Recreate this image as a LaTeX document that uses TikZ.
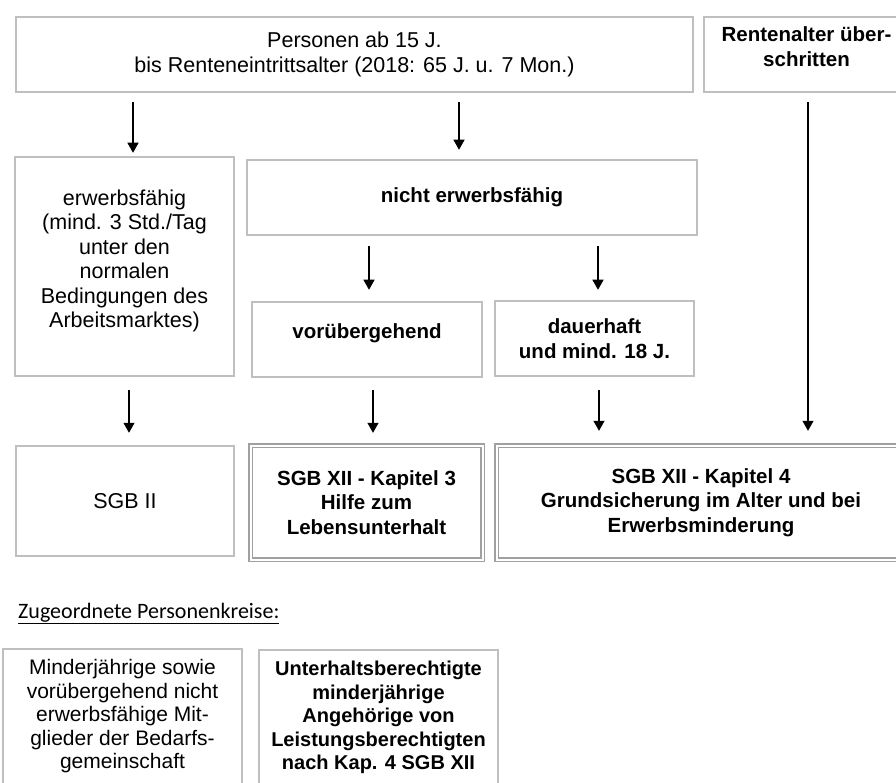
\documentclass[tikz,border=0pt]{standalone}
\usepackage{fontspec}
\setmainfont{Liberation Sans}
\newfontfamily\calib{Carlito}
\usetikzlibrary{arrows.meta}
\definecolor{boxgray}{RGB}{191,191,191}
\definecolor{dblgray}{RGB}{160,160,160}
\newcommand\regf{\fontsize{21.5}{24.5}\selectfont}
\newcommand\bldf{\fontsize{20.5}{24.5}\selectfont\bfseries}
\newcommand\lowf{\fontsize{21}{23.5}\selectfont}
\newcommand\lowbf{\fontsize{20}{23.5}\selectfont\bfseries}
\begin{document}
\begin{tikzpicture}[x=1pt,y=-1pt,
  box/.style={draw=boxgray, line width=2.5pt, fill=white, align=center, inner sep=0pt, font=\regf},
  dbox/.style={draw=dblgray, line width=1.4pt, double=white, double distance=2pt, align=center, inner sep=0pt, font=\bldf},
  sz/.style 2 args={minimum width=#1pt, minimum height=#2pt},
  arr/.style={-{Triangle[width=11pt,length=10pt]}, line width=1.2pt, black}]
\useasboundingbox (0,0) rectangle (896,783);
\clip (0,0) rectangle (896,783);

\node[box, sz={677}{75}] (top1) at (354.5,54.5) {Personen ab 15 J.\\bis Renteneintrittsalter (2018: 65 J. u. 7 Mon.)};
\node[box, sz={205}{75}, font=\bldf] (top2) at (806.5,54.5) {Rentenalter über-\\schritten\\[-8.5pt]\mbox{}};
\node[box, sz={219}{219}] (erw) at (124.5,266.5) {erwerbsfähig\\(mind. 3 Std./Tag\\unter den\\normalen\\Bedingungen des\\Arbeitsmarktes)\\[-9pt]\mbox{}};
\node[box, sz={450}{75}, font=\bldf] (nicht) at (472,197.5) {nicht erwerbsfähig};
\node[box, sz={230}{75}, font=\bldf] (vor) at (367,339.5) {vorübergehend\\[-8pt]\mbox{}};
\node[box, sz={199}{75}, font=\bldf] (dau) at (594.5,338.5) {dauerhaft\\und mind. 18 J.};
\node[box, sz={218}{110}] (sgb2) at (125,501) {SGB II};
\node[dbox, sz={232}{114}] (kap3) at (366.5,502.5) {SGB XII - Kapitel 3\\Hilfe zum\\Lebensunterhalt};
\node[dbox, sz={409}{114}] (kap4) at (701,502.5) {SGB XII - Kapitel 4\\Grundsicherung im Alter und bei\\Erwerbsminderung};

\node[anchor=base west, inner sep=0pt, font=\calib\fontsize{22}{26}\selectfont] (zug) at (18,618) {\underline{Zugeordnete Personenkreise:}};
\node[box, sz={239}{135}, font=\lowf] (bl) at (122.5,716.5) {Minderjährige sowie\\vorübergehend nicht\\erwerbsfähige Mit-\\glieder der Bedarfs-\\gemeinschaft};
\node[box, sz={239}{135}, font=\lowbf] (br) at (378.5,717.5) {Unterhaltsberechtigte\\minderjährige\\Angehörige von\\Leistungsberechtigten\\nach Kap. 4 SGB XII};

\coordinate (xa) at (133,0);
\coordinate (xb) at (459,0);
\coordinate (xc) at (808,0);
\coordinate (xd) at (369,0);
\coordinate (xe) at (598,0);
\coordinate (xf) at (129,0);
\coordinate (xg) at (373,0);
\coordinate (xh) at (599,0);

\draw[arr, shorten <=9pt, shorten >=3pt] (top1.south -| xa) -- (erw.north -| xa);
\draw[arr, shorten <=9pt, shorten >=9pt] (top1.south -| xb) -- (nicht.north -| xb);
\draw[arr, shorten <=9pt, shorten >=14pt] (top2.south -| xc) -- (kap4.north -| xc);
\draw[arr, shorten <=10pt, shorten >=11pt] (nicht.south -| xd) -- (vor.north -| xd);
\draw[arr, shorten <=10pt, shorten >=10pt] (nicht.south -| xe) -- (dau.north -| xe);
\draw[arr, shorten <=13pt, shorten >=12pt] (erw.south -| xf) -- (sgb2.north -| xf);
\draw[arr, shorten <=12pt, shorten >=12pt] (vor.south -| xg) -- (kap3.north -| xg);
\draw[arr, shorten <=13pt, shorten >=14pt] (dau.south -| xh) -- (kap4.north -| xh);
\end{tikzpicture}
\end{document}
